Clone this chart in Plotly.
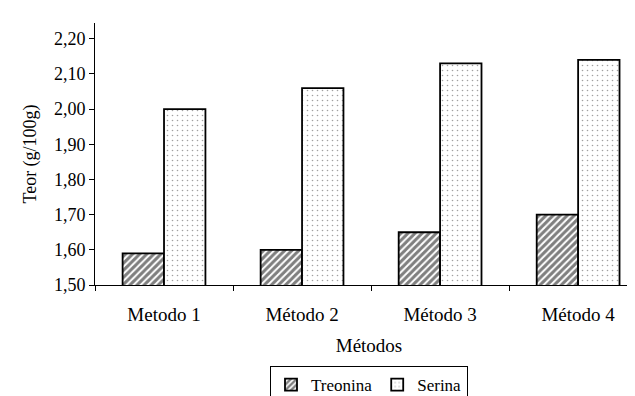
import plotly.graph_objects as go

categorias = ["Metodo 1", "Método 2", "Método 3", "Método 4"]
treonina = [1.59, 1.60, 1.65, 1.70]
serina = [2.00, 2.06, 2.13, 2.14]
y_ticks = [1.5, 1.6, 1.7, 1.8, 1.9, 2.0, 2.1, 2.2]
y_ticktext = ["1,50", "1,60", "1,70", "1,80", "1,90", "2,00", "2,10", "2,20"]

FONT = "Liberation Serif"

fig = go.Figure()
fig.add_trace(go.Bar(
    name="Treonina", x=categorias, y=treonina,
    marker=dict(color="white", line=dict(color="black", width=1.8),
                pattern=dict(shape="/", fgcolor="black", bgcolor="white", size=5, solidity=0.6)),
))
fig.add_trace(go.Bar(
    name="Serina", x=categorias, y=serina,
    marker=dict(color="white", line=dict(color="black", width=1.8),
                pattern=dict(shape=".", fgcolor="#444444", bgcolor="white", size=5, solidity=0.08)),
))

fig.update_layout(
    width=635, height=396,
    margin=dict(l=87, r=0, t=15, b=113),
    paper_bgcolor="white", plot_bgcolor="white",
    barmode="group", bargap=0.4, bargroupgap=0,
    font=dict(family=FONT, size=16, color="black"),
    showlegend=True,
    legend=dict(orientation="h", x=0.5, xanchor="center", y=-0.31, yanchor="top",
                bordercolor="black", borderwidth=1, font=dict(family=FONT, size=17),
                itemwidth=30, tracegroupgap=0),
    xaxis=dict(
        type="category", range=[-0.5, 3.47],
        showline=True, linecolor="black", linewidth=1,
        ticks="outside", tickson="boundaries", ticklen=5, tickcolor="black",
        ticklabelstandoff=12,
        showgrid=False,
        title=dict(text="Métodos", font=dict(family=FONT, size=19), standoff=14),
        tickfont=dict(family=FONT, size=19),
    ),
    yaxis=dict(
        range=[1.5, 2.245],
        tickvals=y_ticks, ticktext=y_ticktext,
        showline=True, linecolor="black", linewidth=1,
        ticks="outside", ticklen=5, tickcolor="black",
        showgrid=False, zeroline=False,
        title=dict(text="Teor (g/100g)", font=dict(family=FONT, size=18), standoff=12),
        tickfont=dict(family=FONT, size=18),
    ),
)

fig.write_html("out.html")
